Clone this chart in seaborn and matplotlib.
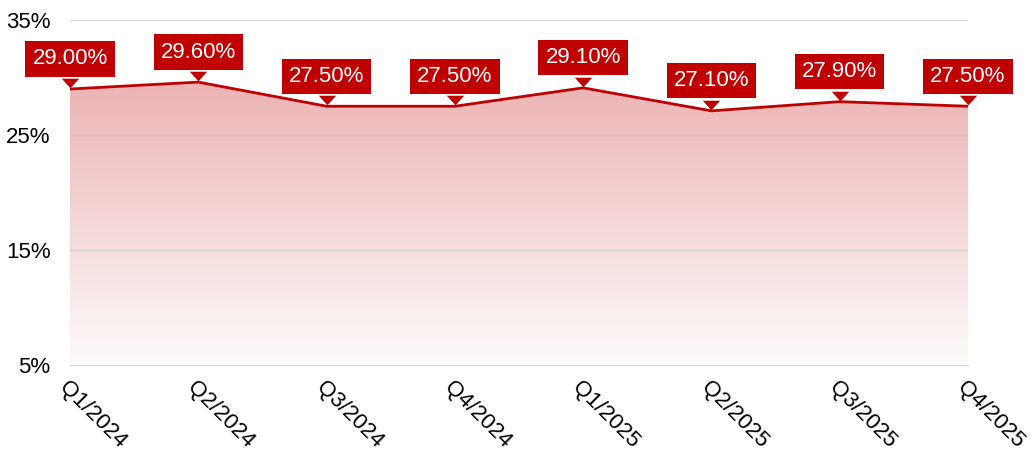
import numpy as np
import pandas as pd
import matplotlib
matplotlib.use("Agg")
import matplotlib.pyplot as plt
import matplotlib.transforms as mtransforms
from matplotlib.colors import LinearSegmentedColormap
from matplotlib.path import Path
import seaborn as sns

# Data
quarters = ["Q1/2024", "Q2/2024", "Q3/2024", "Q4/2024",
            "Q1/2025", "Q2/2025", "Q3/2025", "Q4/2025"]
rates = [29.0, 29.6, 27.5, 27.5, 29.1, 27.1, 27.9, 27.5]
y_ticks = [5, 15, 25, 35]

RED = "#C00000"
GRID = "#D9D9D9"

sns.set_style("white")
plt.rcParams["font.family"] = ["Liberation Sans", "DejaVu Sans"]

df = pd.DataFrame({"quarter": quarters, "rate": rates})
df["pos"] = range(len(df))

fig = plt.figure(figsize=(10.36, 4.59), dpi=100)
ax = fig.add_axes([70 / 1036, 1 - 365 / 459, 898 / 1036, 345 / 459])

# gradient fill under the line
fill = ax.fill_between(df["pos"], df["rate"], 5, color="none", lw=0)
cmap = LinearSegmentedColormap.from_list(
    "fade", [(0.75, 0, 0, 0.02), (0.75, 0, 0, 0.30)])
grad = np.linspace(0, 1, 256).reshape(-1, 1)
img = ax.imshow(grad, cmap=cmap, aspect="auto", origin="lower",
                extent=[0, 7, 5, max(rates)], zorder=1)
img.set_clip_path(fill.get_paths()[0], transform=ax.transData)

sns.lineplot(data=df, x="pos", y="rate", color=RED, lw=2, ax=ax, zorder=3)

# gridlines
for t in y_ticks[1:]:
    ax.axhline(t, color="#BFBFBF", lw=1, alpha=0.6, zorder=2)

ax.set_xlim(0, 7)
ax.set_ylim(5, 35)
ax.set_yticks(y_ticks)
ax.set_yticklabels([f"{t}%" for t in y_ticks], fontsize=16)
ax.set_xticks(df["pos"])
ax.set_xticklabels(quarters, fontsize=16, rotation=-45, ha="left", va="top",
                   rotation_mode="anchor")
ax.tick_params(axis="x", length=5, color=GRID, width=1, pad=4, labelcolor="black")
ax.tick_params(axis="y", length=0, pad=14, labelcolor="black")
ax.set_xlabel("")
ax.set_ylabel("")
for s in ["top", "right", "left"]:
    ax.spines[s].set_visible(False)
ax.spines["bottom"].set_color(GRID)

# label boxes with flat pointer triangles
pointer = Path([(-1, 0.55), (1, 0.55), (0, -0.55), (-1, 0.55)])
tri = mtransforms.offset_copy(ax.transData, fig=fig, x=0, y=6, units="dots")
ax.plot(df["pos"], df["rate"], ls="none", marker=pointer, ms=12.5, color=RED,
        mew=0, transform=tri, zorder=5, clip_on=False)
for x, v in zip(df["pos"], rates):
    ax.annotate(f"{v:.2f}%", (x, v), xytext=(0, 30), textcoords="offset pixels",
                ha="center", va="center", color="white", fontsize=16,
                bbox=dict(boxstyle="square,pad=0.32", fc=RED, ec="none"),
                zorder=6, annotation_clip=False)

fig.savefig("out.png", dpi=100)
